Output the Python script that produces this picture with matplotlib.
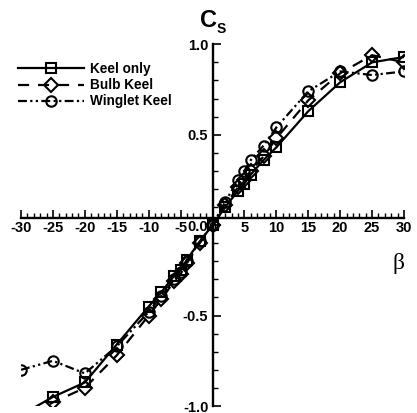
import matplotlib
matplotlib.use("Agg")
import matplotlib.pyplot as plt
from matplotlib.ticker import MultipleLocator, FixedLocator

beta = [-30, -25, -20, -15, -10, -8, -6, -5, -4, -2, 0, 2, 4, 5, 6, 8, 10, 15, 20, 25, 30]
keel_only = [-1.05, -0.95, -0.87, -0.66, -0.45, -0.37, -0.28, -0.25, -0.19, -0.09, 0.0,
             0.10, 0.19, 0.23, 0.28, 0.36, 0.43, 0.63, 0.79, 0.90, 0.93]
bulb_keel = [-1.08, -0.98, -0.90, -0.72, -0.50, -0.41, -0.31, -0.27, -0.21, -0.10, 0.0,
             0.11, 0.21, 0.25, 0.30, 0.38, 0.48, 0.69, 0.84, 0.94, 0.90]
winglet_keel = [-0.80, -0.75, -0.82, -0.67, -0.48, -0.39, -0.30, -0.26, -0.20, -0.09, 0.0,
                0.13, 0.25, 0.30, 0.36, 0.44, 0.54, 0.74, 0.85, 0.83, 0.85]
labels = ["Keel only", "Bulb Keel", "Winglet Keel"]
x_ticks = [-30, -25, -20, -15, -10, -5, 0, 5, 10, 15, 20, 25, 30]
y_ticks = [-1.0, -0.5, 0.0, 0.5, 1.0]

plt.rcParams['font.family'] = ['Liberation Sans', 'DejaVu Sans']
plt.rcParams['axes.unicode_minus'] = False

W, H = 417, 413
fig = plt.figure(figsize=(W / 100, H / 100), dpi=100)
ax = fig.add_axes([21 / W, 1 - 406 / H, 383 / W, (406 - 44.3) / H])
ax.set_xlim(-30, 30)
ax.set_ylim(-1.0, 1.0)

common = dict(color='black', lw=1.6, mfc='none', mec='black', mew=1.5, ms=7.5)
ax.plot(beta, keel_only, ls='-', marker='s', label=labels[0], **common)
ax.plot(beta, bulb_keel, ls=(0, (5, 4)), marker='D', label=labels[1], **{**common, 'ms': 7})
ax.plot(beta, winglet_keel, ls=(0, (4, 1.5, 1, 1.5, 1, 1.5)), marker='o', label=labels[2], **common)

for s in ['top', 'right']:
    ax.spines[s].set_visible(False)
ax.spines['left'].set_position(('data', 0))
ax.spines['bottom'].set_position(('data', 0.04))
ax.spines['left'].set_bounds(-1.0, 1.0)
ax.spines['bottom'].set_bounds(-30, 30)
ax.spines['left'].set_linewidth(1.7)
ax.spines['bottom'].set_linewidth(1.7)

ax.xaxis.set_major_locator(FixedLocator(x_ticks))
ax.xaxis.set_minor_locator(MultipleLocator(1))
ax.yaxis.set_major_locator(FixedLocator(y_ticks))
ax.yaxis.set_minor_locator(MultipleLocator(0.1))
ax.set_xticklabels([str(v) for v in x_ticks])
ax.set_yticklabels([f"{v:.1f}" for v in y_ticks])
ax.tick_params(axis='x', which='major', direction='in', length=6, width=1.2, pad=2.5,
               labelsize=10.5)
ax.tick_params(axis='x', which='minor', direction='in', length=3.5, width=1.0)
ax.tick_params(axis='y', which='major', direction='in', length=6, width=1.2, pad=3,
               labelsize=10.5)
ax.tick_params(axis='y', which='minor', direction='in', length=3.5, width=1.0)
for t in ax.get_xticklabels() + ax.get_yticklabels():
    t.set_fontweight('bold')

fig.text(200 / W, 1 - 27 / H, "C", fontsize=17, fontweight='bold', ha='left', va='baseline')
fig.text(217 / W, 1 - 33 / H, "S", fontsize=10, fontweight='bold', ha='left', va='baseline')
fig.text(399 / W, 1 - 263 / H, "β", fontsize=17, family=['Liberation Serif', 'DejaVu Serif'],
         ha='center', va='center')

leg = ax.legend(loc='upper left', bbox_to_anchor=(6 / W, 1 - 50 / H),
                bbox_transform=fig.transFigure, frameon=False, handlelength=4.8,
                handletextpad=0.45, labelspacing=0.15, numpoints=1,
                prop={'weight': 'bold', 'size': 9.8})

fig.savefig("out.png", dpi=100)
